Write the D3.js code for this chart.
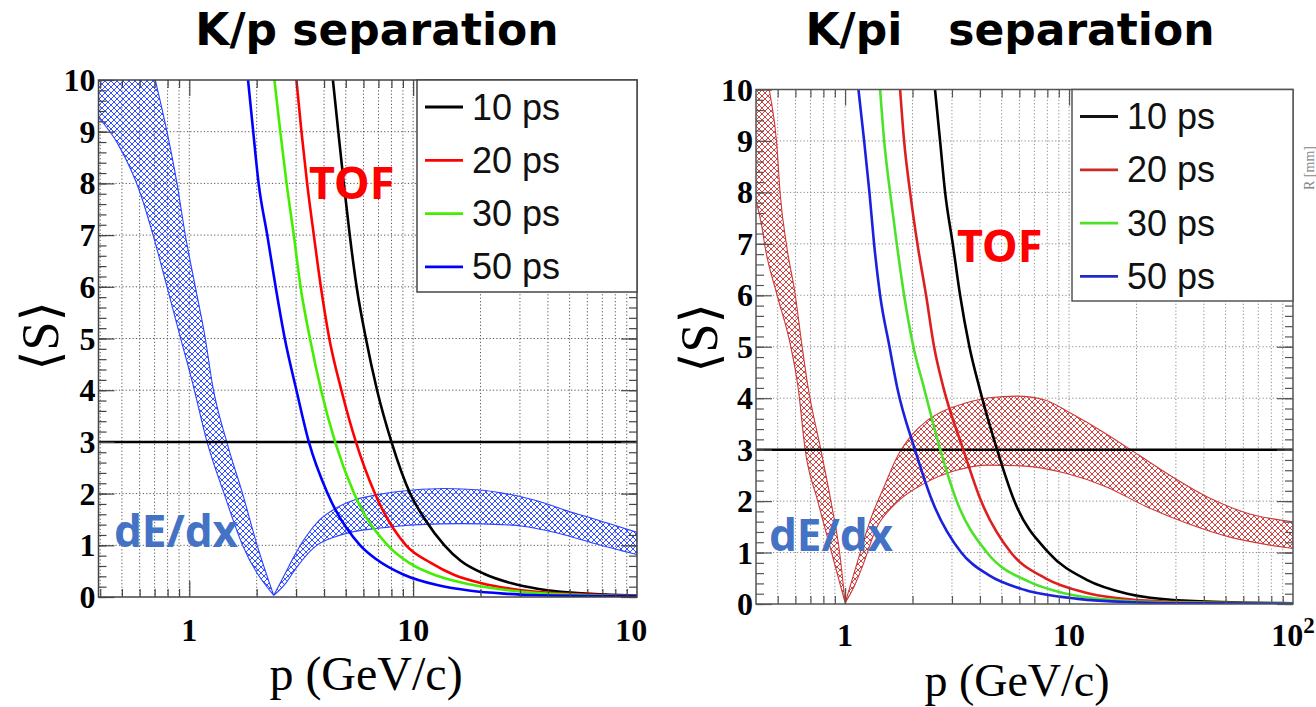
<!DOCTYPE html>
<html>
<head>
<meta charset="utf-8">
<script src="https://cdn.jsdelivr.net/npm/d3@7"></script>
<style>
  html, body { margin: 0; padding: 0; background: #fff; }
  svg { display: block; }
</style>
</head>
<body>
<svg id="chart" width="1316" height="707"></svg>
<script>
// ---------- data: [momentum p (GeV/c), separation <S>] ----------
const yTickValues = [0, 1, 2, 3, 4, 5, 6, 7, 8, 9, 10];
const xMajorValues = [1, 10, 100];
const xTickLabels = ["1", "10", "10²"];
const legendLabels = ["10 ps", "20 ps", "30 ps", "50 ps"];
const separationThreshold = 3;

// K/p : TOF separation for each time resolution
const kpTof10 = [[4.38,10],[4.63,9],[4.90,8],[5.21,7],[5.59,6],[6.15,5],[6.9,4],[8.0,3],[9.7,2],[11.3,1.5],[13.8,1],[16.3,0.7],[20.7,0.45],[27.3,0.27],[35.9,0.16],[50.7,0.085],[76.5,0.045],[100,0.03]];
const kpTof20 = [[3.01,10],[3.17,9],[3.36,8],[3.6,7],[3.87,6],[4.22,5],[4.78,4],[5.55,3],[6.75,2],[9.3,1],[12.0,0.66],[15.2,0.43],[20.0,0.27],[28.3,0.15],[42.6,0.075],[71.4,0.035],[100,0.025]];
const kpTof30 = [[2.40,10],[2.55,9],[2.72,8],[2.93,7],[3.14,6],[3.46,5],[3.88,4],[4.48,3],[5.45,2],[7.7,1],[9.6,0.66],[12.8,0.41],[18.1,0.24],[25.5,0.14],[35.9,0.075],[58,0.035],[100,0.02]];
const kpTof50 = [[1.83,10],[1.93,9],[2.04,8],[2.23,7],[2.43,6],[2.67,5],[3.01,4],[3.42,3],[4.15,2],[5.8,1],[6.9,0.72],[9.09,0.43],[12.8,0.23],[18.1,0.12],[25.5,0.065],[33.6,0.04],[100,0.015]];

// K/p : dE/dx band (falling and rising branches, upper / lower edges)
const kpBandFallUpper = [[0.38,14],[0.62,11.0],[0.705,10],[0.795,9],[0.881,8],[0.96,7],[1.064,6],[1.179,5],[1.27,4.1],[1.47,3],[1.73,2],[2.01,1],[2.384,0.03]];
const kpBandFallLower = [[0.38,9.35],[0.483,8.74],[0.604,7.81],[0.692,6.97],[0.795,6.0],[0.911,5.03],[1.04,4.1],[1.2,3],[1.43,2],[1.73,1],[2.384,0.03]];
const kpBandRiseUpper = [[2.384,0.03],[2.7,0.48],[2.95,0.8],[3.3,1.15],[3.82,1.49],[4.53,1.72],[5.5,1.88],[6.95,1.98],[10,2.07],[13.8,2.1],[20,2.07],[25.1,2.01],[31,1.93],[38.5,1.82],[47.6,1.68],[59,1.56],[75,1.42],[100,1.25]];
const kpBandRiseLower = [[2.384,0.03],[2.7,0.27],[3.0,0.56],[3.66,0.98],[4.53,1.17],[5.5,1.27],[6.95,1.33],[10.66,1.40],[16.4,1.42],[25,1.40],[31,1.37],[38,1.30],[47.6,1.20],[64,1.04],[100,0.82]];

// K/pi : TOF separation for each time resolution
const kpiTof10 = [[2.52,10],[2.655,9],[2.796,8],[3.025,7],[3.262,6],[3.589,5],[3.98,4.2],[4.77,3],[5.7,2],[8.1,1],[12.0,0.47],[18.2,0.2],[32.4,0.065],[63,0.025],[100,0.015]];
const kpiTof20 = [[1.76,10],[1.834,9],[1.951,8],[2.103,7],[2.299,6],[2.496,5],[2.75,4.2],[3.37,3],[4.05,2],[5.5,1],[7.85,0.5],[11.9,0.22],[22.2,0.065],[41.5,0.025],[100,0.01]];
const kpiTof30 = [[1.433,10],[1.494,9],[1.588,8],[1.701,7],[1.834,6],[2.018,5],[2.25,4.2],[2.66,3],[3.15,2],[4.3,1],[6.65,0.43],[9.28,0.22],[16.6,0.07],[27.4,0.028],[100,0.008]];
const kpiTof50 = [[1.147,10],[1.216,9],[1.284,8],[1.347,7],[1.433,6],[1.578,5],[1.71,4.2],[2.05,3],[2.45,2],[3.3,1],[4.38,0.56],[6.37,0.27],[10.96,0.1],[18.06,0.04],[40,0.012],[100,0.005]];

// K/pi : dE/dx band
const kpiBandFallUpper = [[0.39,12.1],[0.459,10],[0.495,8.95],[0.513,7.97],[0.549,6.94],[0.598,6.03],[0.64,5.06],[0.684,4.2],[0.779,3],[0.864,2],[0.945,1],[1.0,0.02]];
const kpiBandFallLower = [[0.39,8.0],[0.425,7.33],[0.439,6.94],[0.495,6.03],[0.568,5.06],[0.617,4.2],[0.663,3],[0.755,2],[0.87,1],[1.0,0.02]];
const kpiBandRiseUpper = [[1.0,0.02],[1.15,0.9],[1.3,1.65],[1.5,2.3],[1.68,2.8],[2.0,3.3],[2.3,3.55],[2.66,3.72],[3.42,3.9],[4.38,4.01],[5.86,4.04],[7.86,3.96],[10.05,3.72],[14.6,3.31],[20.4,2.9],[27.3,2.54],[41.5,2.08],[63,1.76],[100,1.6]];
const kpiBandRiseLower = [[1.0,0.02],[1.1,0.35],[1.2,0.75],[1.367,1.44],[1.68,1.95],[2.25,2.34],[3.14,2.6],[4.38,2.7],[6.37,2.68],[9.68,2.54],[14.6,2.28],[22.2,1.89],[33.6,1.57],[51.3,1.31],[77.7,1.15],[100,1.08]];

// ---------- drawing ----------
const svg = d3.select("#chart");
const defs = svg.append("defs");

function addHatch(id, color) {
  const pat = defs.append("pattern")
    .attr("id", id)
    .attr("patternUnits", "userSpaceOnUse")
    .attr("width", 6).attr("height", 6);
  pat.append("path")
    .attr("d", "M0,0L6,6M6,0L0,6M-1,5L1,7M5,-1L7,1M-1,1L1,-1M5,7L7,5")
    .attr("stroke", color)
    .attr("stroke-width", 1)
    .attr("fill", "none");
}
addHatch("hatchBlue", "#3550ff");
addHatch("hatchRed", "#cc4444");

const serif = "'Liberation Serif', 'Times New Roman', 'DejaVu Serif', serif";
const sans = "'Liberation Sans', Arial, Helvetica, sans-serif";

function drawPanel(cfg) {
  const g = svg.append("g");
  const x = d3.scaleLog().domain([cfg.pMin, 100]).range([cfg.left, cfg.right]);
  const y = d3.scaleLinear().domain([0, 10]).range([cfg.bottom, cfg.top]);
  const w = cfg.right - cfg.left, h = cfg.bottom - cfg.top;

  defs.append("clipPath").attr("id", cfg.id + "-clip")
    .append("rect").attr("x", cfg.left).attr("y", cfg.top).attr("width", w).attr("height", h);

  // minor positions on the log axis
  const minorX = [];
  [0.1, 1, 10].forEach(dec => {
    for (let k = 2; k <= 9; k++) {
      const v = k * dec;
      if (v > cfg.pMin && v < 100) minorX.push(v);
    }
  });
  const minorY = d3.range(0, 10.001, 0.2).map(v => +v.toFixed(1));

  // grid
  const grid = g.append("g")
    .attr("stroke", cfg.gridColor)
    .attr("stroke-width", 1)
    .attr("stroke-dasharray", "1.2,2.2");
  grid.selectAll("line.v").data(minorX.concat([1, 10]))
    .join("line")
    .attr("x1", d => x(d)).attr("x2", d => x(d))
    .attr("y1", cfg.top).attr("y2", cfg.bottom);
  grid.selectAll("line.h").data(yTickValues.filter(v => v > 0 && v < 10))
    .join("line")
    .attr("x1", cfg.left).attr("x2", cfg.right)
    .attr("y1", d => y(d)).attr("y2", d => y(d));

  const plot = g.append("g").attr("clip-path", `url(#${cfg.id}-clip)`);

  // dE/dx band
  const edge = d3.line().x(d => x(d[0])).y(d => y(d[1])).curve(d3.curveMonotoneX);
  const bandPath = (upper, lower) =>
    edge(upper) + edge(lower.slice().reverse()).replace(/^M/, "L") + "Z";
  [[cfg.band[0], cfg.band[1]], [cfg.band[2], cfg.band[3]]].forEach(([up, lo]) => {
    plot.append("path")
      .attr("d", bandPath(up, lo))
      .attr("fill", `url(#${cfg.hatch})`)
      .attr("stroke", cfg.bandEdge)
      .attr("stroke-width", 1.1);
  });

  // 3 sigma line
  plot.append("line")
    .attr("x1", cfg.left).attr("x2", cfg.right)
    .attr("y1", y(separationThreshold)).attr("y2", y(separationThreshold))
    .attr("stroke", "#000").attr("stroke-width", 2.5);

  // TOF curves
  cfg.curves.forEach((c, i) => {
    plot.append("path")
      .attr("d", edge(c))
      .attr("fill", "none")
      .attr("stroke", cfg.colors[i])
      .attr("stroke-width", 2.6)
      .attr("stroke-linejoin", "round");
  });

  // frame
  g.append("rect")
    .attr("x", cfg.left).attr("y", cfg.top).attr("width", w).attr("height", h)
    .attr("fill", "none").attr("stroke", cfg.frameColor).attr("stroke-width", 1.5);

  // ticks on all four sides, pointing inward
  const tickStyle = sel => {
    sel.select(".domain").remove();
    sel.selectAll("line").attr("stroke", cfg.frameColor).attr("stroke-width", 1.2);
  };
  g.append("g").attr("transform", `translate(0,${cfg.bottom})`)
    .call(d3.axisBottom(x).tickValues(minorX).tickSize(-8).tickFormat("")).call(tickStyle);
  g.append("g").attr("transform", `translate(0,${cfg.bottom})`)
    .call(d3.axisBottom(x).tickValues(xMajorValues.slice(0, 2)).tickSize(-16).tickFormat("")).call(tickStyle);
  g.append("g").attr("transform", `translate(0,${cfg.top})`)
    .call(d3.axisTop(x).tickValues(minorX).tickSize(-8).tickFormat("")).call(tickStyle);
  g.append("g").attr("transform", `translate(0,${cfg.top})`)
    .call(d3.axisTop(x).tickValues(xMajorValues.slice(0, 2)).tickSize(-16).tickFormat("")).call(tickStyle);
  g.append("g").attr("transform", `translate(${cfg.left},0)`)
    .call(d3.axisLeft(y).tickValues(minorY).tickSize(-8).tickFormat("")).call(tickStyle);
  g.append("g").attr("transform", `translate(${cfg.left},0)`)
    .call(d3.axisLeft(y).tickValues(yTickValues).tickSize(-16).tickFormat("")).call(tickStyle);
  g.append("g").attr("transform", `translate(${cfg.right},0)`)
    .call(d3.axisRight(y).tickValues(minorY).tickSize(-8).tickFormat("")).call(tickStyle);
  g.append("g").attr("transform", `translate(${cfg.right},0)`)
    .call(d3.axisRight(y).tickValues(yTickValues).tickSize(-16).tickFormat("")).call(tickStyle);

  // y tick labels
  g.append("g").selectAll("text").data(yTickValues).join("text")
    .attr("x", cfg.left - 3)
    .attr("y", d => y(d) + 11)
    .attr("text-anchor", "end")
    .attr("font-family", serif).attr("font-weight", "bold").attr("font-size", 32)
    .text(d => d);

  // x tick labels
  defs.append("clipPath").attr("id", cfg.id + "-lblclip")
    .append("rect").attr("x", cfg.labelClip[0]).attr("y", 0)
    .attr("width", cfg.labelClip[1] - cfg.labelClip[0]).attr("height", 707);
  const xl = g.append("g").attr("clip-path", `url(#${cfg.id}-lblclip)`);
  xMajorValues.forEach((v, i) => {
    const label = xTickLabels[i];
    const t = xl.append("text")
      .attr("x", x(v)).attr("y", cfg.xLabelBaseline)
      .attr("text-anchor", "middle")
      .attr("font-family", serif).attr("font-weight", "bold").attr("font-size", 32);
    if (label.endsWith("²")) {
      t.append("tspan").text(label.slice(0, -1));
      t.append("tspan").attr("dy", -13).attr("font-size", 23).text("2");
    } else {
      t.text(label);
    }
  });

  // axis titles
  g.append("text")
    .attr("transform", `translate(${cfg.yTitle[0]},${cfg.yTitle[1]}) rotate(-90)`)
    .attr("text-anchor", "middle").attr("dominant-baseline", "central")
    .attr("font-family", serif).attr("font-size", 52)
    .text("⟨S⟩");
  g.append("text")
    .attr("x", cfg.xTitle[0]).attr("y", cfg.xTitle[1])
    .attr("text-anchor", "middle")
    .attr("font-family", serif).attr("font-size", cfg.xTitle[2])
    .text("p (GeV/c)");

  // panel title
  g.append("text")
    .attr("x", cfg.title[0]).attr("y", cfg.title[1])
    .attr("text-anchor", "middle")
    .attr("font-family", "'DejaVu Sans', Verdana, sans-serif")
    .attr("font-weight", "bold").attr("font-size", 44)
    .style("white-space", "pre")
    .text(cfg.titleText);

  // legend
  const lg = g.append("g");
  lg.append("rect")
    .attr("x", cfg.legend.x).attr("y", cfg.top)
    .attr("width", cfg.right - cfg.legend.x).attr("height", cfg.legend.bottom - cfg.top)
    .attr("fill", "#fff").attr("stroke", cfg.frameColor).attr("stroke-width", 1.5);
  legendLabels.forEach((lab, i) => {
    const cy = cfg.top + 27 + i * 53.3;
    lg.append("line")
      .attr("x1", cfg.legend.x + 8).attr("x2", cfg.legend.x + 46)
      .attr("y1", cy).attr("y2", cy)
      .attr("stroke", cfg.legendColors[i]).attr("stroke-width", 2.8);
    lg.append("text")
      .attr("x", cfg.legend.x + 55).attr("y", cy)
      .attr("dominant-baseline", "central")
      .attr("font-family", sans).attr("font-size", 36)
      .attr("fill", "#111")
      .text(lab);
  });

  // annotations
  g.append("text")
    .attr("x", cfg.tofLabel[0]).attr("y", cfg.tofLabel[1])
    .attr("font-family", "'Noto Sans', 'Open Sans', sans-serif")
    .attr("font-weight", "bold").attr("font-size", 45)
    .attr("fill", "#ff0000")
    .text("TOF");
  g.append("text")
    .attr("x", cfg.dedxLabel[0]).attr("y", cfg.dedxLabel[1])
    .attr("font-family", "'Noto Sans', 'Open Sans', sans-serif")
    .attr("font-weight", "bold").attr("font-size", 44)
    .attr("fill", "#4472c4")
    .text("dE/dx");
}

drawPanel({
  id: "kp",
  left: 98.5, right: 637, top: 80, bottom: 597, pMin: 0.393,
  curves: [kpTof10, kpTof20, kpTof30, kpTof50],
  colors: ["#000000", "#ff0000", "#44ee00", "#0000ff"],
  legendColors: ["#000000", "#ff0000", "#44ee00", "#0000ff"],
  band: [kpBandFallUpper, kpBandFallLower, kpBandRiseUpper, kpBandRiseLower],
  hatch: "hatchBlue", bandEdge: "#2a44ff",
  gridColor: "#555", frameColor: "#444",
  xLabelBaseline: 641, labelClip: [0, 647],
  yTitle: [40, 336], xTitle: [366, 690, 48],
  title: [377, 45], titleText: "K/p separation",
  legend: { x: 417, bottom: 292 },
  tofLabel: [309, 199], dedxLabel: [114, 547]
});

drawPanel({
  id: "kpi",
  left: 756, right: 1293, top: 89.5, bottom: 604, pMin: 0.4,
  curves: [kpiTof10, kpiTof20, kpiTof30, kpiTof50],
  colors: ["#000000", "#dd1f1f", "#4ce22a", "#1a22dd"],
  legendColors: ["#111111", "#cc2a2a", "#4ce22a", "#1f2acc"],
  band: [kpiBandFallUpper, kpiBandFallLower, kpiBandRiseUpper, kpiBandRiseLower],
  hatch: "hatchRed", bandEdge: "#cc3a3a",
  gridColor: "#8a8a8a", frameColor: "#555",
  xLabelBaseline: 646, labelClip: [660, 1316],
  yTitle: [699, 338], xTitle: [1017, 696, 46],
  title: [1010, 45], titleText: "K/pi   separation",
  legend: { x: 1072, bottom: 301 },
  tofLabel: [957, 262], dedxLabel: [769, 551]
});

// stray axis caption at the right border
svg.append("text")
  .attr("transform", "translate(1309,168) rotate(-90)")
  .attr("text-anchor", "middle").attr("dominant-baseline", "central")
  .attr("font-family", serif).attr("font-size", 14)
  .attr("fill", "#888")
  .text("R [mm]");
</script>
</body>
</html>
